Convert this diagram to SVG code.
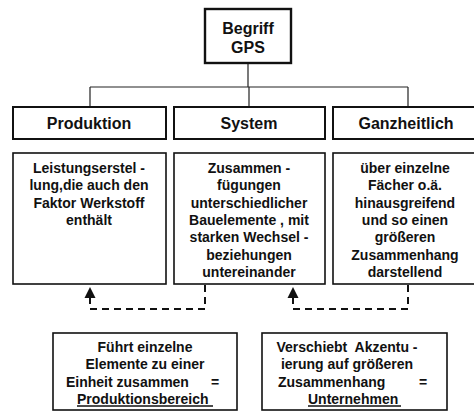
<svg xmlns="http://www.w3.org/2000/svg" width="474" height="412" viewBox="0 0 474 412">
<style>
.box{fill:#fff;stroke:#111;stroke-width:1.6}
.top{fill:#fff;stroke:#111;stroke-width:2.4}
.hdr{fill:#fff;stroke:#111;stroke-width:2}
.t{font-family:"Liberation Sans",Arial,sans-serif;font-weight:bold;fill:#111;font-size:14px;text-anchor:middle}
.h{font-size:16px}
.l{text-anchor:start}
.ln{stroke:#222;stroke-width:1.2;fill:none}
.dash{stroke:#111;stroke-width:2;fill:none;stroke-dasharray:7 5}
</style>
<g id="connectors">
<path class="ln" d="M248,63 V87 M90,87 H408 M90,87 V107 M249,87 V107 M408,87 V107"/>
<path class="dash" d="M205,285 V309 H90 V298"/>
<path d="M84.5,298 L90,287 L95.5,298 Z" fill="#111"/>
<path class="dash" d="M408,285 V309 H293 V298"/>
<path d="M287.5,298 L293,287 L298.5,298 Z" fill="#111"/>
</g>
<g id="begriff">
<rect class="top" x="205" y="9" width="86" height="54"/>
<text class="t h" x="248" y="33.5">Begriff</text>
<text class="t h" x="248" y="53">GPS</text>
</g>
<g id="produktion">
<rect class="hdr" x="13" y="107" width="153" height="32"/>
<text class="t h" x="89" y="128.5">Produktion</text>
</g>
<g id="system">
<rect class="hdr" x="174" y="107" width="151" height="32"/>
<text class="t h" x="249" y="128.5">System</text>
</g>
<g id="ganzheitlich">
<rect class="hdr" x="333" y="107" width="146" height="32"/>
<text class="t h" x="406" y="128.5">Ganzheitlich</text>
</g>
<g id="produktion-text">
<rect class="box" x="13" y="153" width="153" height="131"/>
<text class="t" x="89" y="173">Leistungserstel -</text>
<text class="t" x="89" y="190.3">lung,die auch den</text>
<text class="t" x="89" y="207.6">Faktor Werkstoff</text>
<text class="t" x="89" y="224.9">enthält</text>
</g>
<g id="system-text">
<rect class="box" x="174" y="153" width="151" height="131"/>
<text class="t" x="249" y="173">Zusammen -</text>
<text class="t" x="249" y="190.3">fügungen</text>
<text class="t" x="249" y="207.6">unterschiedlicher</text>
<text class="t" x="249" y="224.9">Bauelemente , mit</text>
<text class="t" x="249" y="242.2">starken Wechsel -</text>
<text class="t" x="249" y="259.5">beziehungen</text>
<text class="t" x="249" y="276.8">untereinander</text>
</g>
<g id="ganzheitlich-text">
<rect class="box" x="333" y="153" width="146" height="131"/>
<text class="t" x="405" y="173">über einzelne</text>
<text class="t" x="405" y="190.3">Fächer o.ä.</text>
<text class="t" x="405" y="207.6">hinausgreifend</text>
<text class="t" x="405" y="224.9">und so einen</text>
<text class="t" x="405" y="242.2">größeren</text>
<text class="t" x="405" y="259.5">Zusammenhang</text>
<text class="t" x="405" y="276.8">darstellend</text>
</g>
<g id="produktionsbereich">
<rect class="box" x="53" y="333" width="184" height="77"/>
<text class="t" x="145" y="352">Führt einzelne</text>
<text class="t" x="145" y="369.3">Elemente zu einer</text>
<text class="t l" x="66" y="386.6">Einheit zusammen</text>
<text class="t l" x="211" y="386.6">=</text>
<text class="t l" x="77" y="403.9">Produktionsbereich</text>
<line x1="77" y1="406" x2="213" y2="406" stroke="#111" stroke-width="1.5"/>
</g>
<g id="unternehmen">
<rect class="box" x="262" y="333" width="185" height="77"/>
<text class="t" x="347" y="352">Verschiebt&#160; Akzentu -</text>
<text class="t" x="347" y="369.3">ierung auf größeren</text>
<text class="t l" x="278" y="386.6">Zusammenhang</text>
<text class="t l" x="419" y="386.6">=</text>
<text class="t l" x="308" y="403.9">Unternehmen</text>
<line x1="308" y1="406" x2="401" y2="406" stroke="#111" stroke-width="1.5"/>
</g>
</svg>
